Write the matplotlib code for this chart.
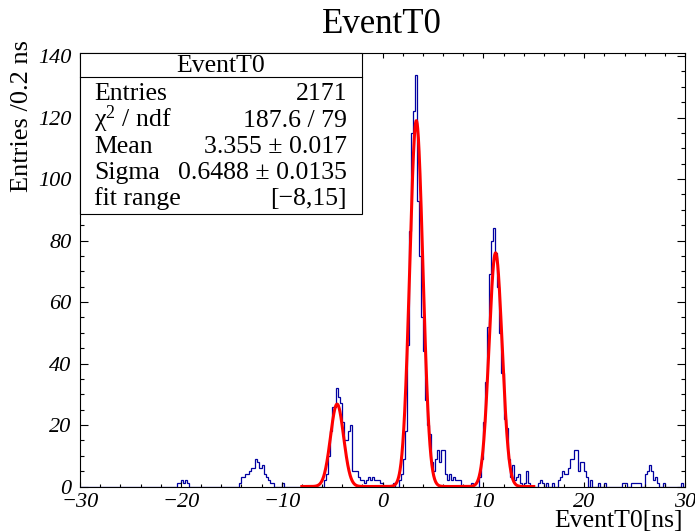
import numpy as np
import matplotlib
matplotlib.use('Agg')
import matplotlib.pyplot as plt
from matplotlib.patches import Rectangle
from matplotlib.lines import Line2D
from matplotlib.ticker import MultipleLocator

plt.rcParams['font.family'] = 'Liberation Serif'
plt.rcParams['mathtext.fontset'] = 'custom'
plt.rcParams['mathtext.rm'] = 'Liberation Serif'
plt.rcParams['mathtext.it'] = 'Liberation Serif:italic'

# histogram: 0.2 ns bins from -30 to 30, only the non-empty stretches are listed
bin_width = 0.2
seg_start = [-20.4, -14.2, -10.0, -5.8, 1.0, 8.8, 9.6, 15.4, 16.8, 17.4,
             21.4, 22.0, 23.8, 24.6, 26.0, 27.8, 29.6]
seg_counts = [
    [1, 1, 2, 1, 2, 1],
    [1, 3, 3, 4, 4, 5, 6, 6, 9, 8, 6, 7, 4, 3, 2, 1, 1],
    [1],
    [2, 4, 10, 18, 26, 26, 32, 29, 27, 21, 15, 15, 18, 20, 5, 5, 5, 3, 2, 2,
     1, 2, 3, 2, 3, 2, 2, 2, 1],
    [1, 0, 0, 2, 4, 9, 18, 46, 83, 115, 122, 134, 93, 75, 55, 44, 28, 20, 17,
     8, 5, 9, 12, 8, 12, 12, 4, 2, 4, 2, 3, 2, 2, 2],
    [1],
    [3, 9, 21, 34, 52, 69, 80, 84, 76, 65, 50, 37, 22, 19, 9, 3, 7, 2, 3, 4,
     1, 0, 1, 5, 1],
    [1, 2, 1, 0, 1],
    [1],
    [2, 3, 5, 4, 4, 6, 9, 9, 12, 12, 5, 8, 8, 5, 3, 0, 2],
    [1],
    [1],
    [1, 1],
    [1, 1, 1, 1, 1],
    [4, 5, 7, 5, 2, 3, 1],
    [1],
    [1],
]

# fit: three gaussians, common sigma, fixed spacing between bunches
fit_amp = [26.8, 119.0, 76.0]
fit_shift = [-1, 0, 1]
fit_mean = 3.355
fit_sigma = 0.6488
fit_spacing = 7.86
fit_lo, fit_hi = -8, 15

stats_title = 'EventT0'
stats_names = ['Entries', r'χ$^{2}$ / ndf', 'Mean', 'Sigma', 'fit range']
stats_values = ['2171', '187.6 / 79', '3.355 ± 0.017', '0.6488 ± 0.0135', '[−8,15]']

W, H = 695, 531


def fx(px):
    return px / W


def fy(py):
    return 1 - py / H


edges = np.linspace(-30, 30, 301)
counts = np.zeros(300)
for s, c in zip(seg_start, seg_counts):
    i = int(round((s + 30) / bin_width))
    counts[i:i + len(c)] = c

xf = np.linspace(fit_lo, fit_hi, 1000)
yf = np.zeros_like(xf)
for a, k in zip(fit_amp, fit_shift):
    yf += a * np.exp(-0.5 * ((xf - fit_mean - k * fit_spacing) / fit_sigma) ** 2)

fig = plt.figure(figsize=(W / 100, H / 100), dpi=100)
ax = fig.add_axes([fx(80), 1 - 486.5 / H, fx(605), 433.2 / H])

ax.stairs(counts, edges, color='#0000a0', linewidth=0.9)
ax.plot(xf, yf, color='#ff0000', linewidth=2.2)

ax.set_xlim(-30, 30)
ax.set_ylim(0, 140.9)
ax.xaxis.set_major_locator(MultipleLocator(10))
ax.xaxis.set_minor_locator(MultipleLocator(2))
ax.yaxis.set_major_locator(MultipleLocator(20))
ax.yaxis.set_minor_locator(MultipleLocator(5))
ax.tick_params(which='both', direction='in', top=True, right=True, width=0.8)
ax.tick_params(axis='x', which='major', length=3.8, pad=4.5, labelsize=16)
ax.tick_params(axis='x', which='minor', length=1.9)
ax.tick_params(axis='y', which='major', length=5.8, pad=6, labelsize=16)
ax.tick_params(axis='y', which='minor', length=2.9)
for lab in ax.get_xticklabels() + ax.get_yticklabels():
    lab.set_fontstyle('italic')
for sp in ax.spines.values():
    sp.set_linewidth(0.8)

fig.text(fx(382), fy(33), 'EventT0', ha='center', va='baseline', fontsize=25)
fig.text(fx(22), fy(40), 'Entries /0.2 ns', rotation=90, ha='center', va='top',
         fontsize=19)
fig.text(fx(683), fy(527), 'EventT0[ns]', ha='right', va='baseline', fontsize=18.5)

# stats box
box = Rectangle((fx(80), fy(214)), fx(362) - fx(80), fy(52.5) - fy(214),
                transform=fig.transFigure, facecolor='white', edgecolor='black',
                linewidth=0.8, zorder=5)
fig.add_artist(box)
fig.add_artist(Line2D([fx(80), fx(362)], [fy(77), fy(77)], transform=fig.transFigure,
                      color='black', linewidth=0.8, zorder=6))
fig.text(fx(221), fy(72.5), stats_title, ha='center', va='baseline', fontsize=18.5,
         zorder=7)
row_base = [100.5, 127, 153, 179, 205]
for name, val, yb in zip(stats_names, stats_values, row_base):
    fig.text(fx(94), fy(yb), name, ha='left', va='baseline', fontsize=18.5, zorder=7)
    fig.text(fx(347), fy(yb), val, ha='right', va='baseline', fontsize=18.5, zorder=7)

fig.savefig('out.png', dpi=100)
